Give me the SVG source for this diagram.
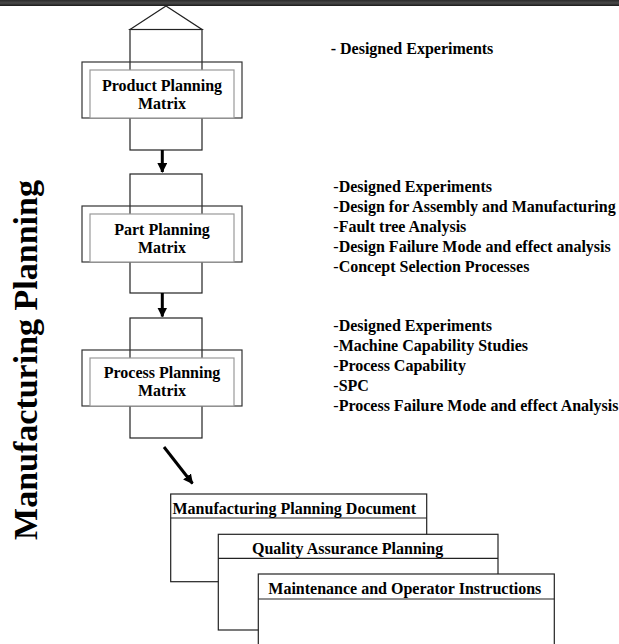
<svg xmlns="http://www.w3.org/2000/svg" width="619" height="644" viewBox="0 0 619 644">
  <style>
    .t { font-family: "Liberation Serif", "Times New Roman", serif; font-weight: bold; font-size: 16px; fill: #000; }
    .c { text-anchor: middle; }
    .n { font-weight: normal; }
    .frame { fill: none; stroke: #222; stroke-width: 1.2; }
    .outer { fill: none; stroke: #333; stroke-width: 1.2; }
    .inner { fill: #fff; stroke: #999; stroke-width: 1.2; }
    .doc { fill: #fff; stroke: #222; stroke-width: 1.2; }
    .rule { stroke: #222; stroke-width: 1.2; }
    .arrow { stroke: #000; stroke-width: 3; fill: none; }
  </style>
  <defs>
    <linearGradient id="bar" x1="0" y1="0" x2="0" y2="1">
      <stop offset="0" stop-color="#2a2a2a"/>
      <stop offset="0.5" stop-color="#4a4a4a"/>
      <stop offset="1" stop-color="#1a1a1a"/>
    </linearGradient>
    <marker id="head" viewBox="0 0 10 10" refX="9" refY="5" markerWidth="3.3" markerHeight="3.3" orient="auto" markerUnits="strokeWidth">
      <path d="M0,0 L10,5 L0,10 Z" fill="#000"/>
    </marker>
  </defs>

  <rect width="619" height="644" fill="#fff"/>
  <rect x="0" y="0" width="619" height="6" fill="url(#bar)"/>

  <!-- side title -->
  <g id="side-title">
    <text class="t" font-size="34" style="font-size:34px" text-anchor="middle" transform="translate(37,360) rotate(-90)">Manufacturing Planning</text>
  </g>

  <!-- matrix stages -->
  <g id="product-planning">
    <path class="frame" d="M130,29.5 L166,6 L202,29.5 Z"/>
    <rect class="frame" x="130" y="29.5" width="72" height="120.5"/>
    <rect class="outer" x="82" y="62" width="160" height="56"/>
    <rect class="inner" x="90" y="70" width="144" height="48"/>
    <text class="t c" x="162" y="91">Product Planning</text>
    <text class="t c" x="162" y="109">Matrix</text>
  </g>

  <g id="part-planning">
    <rect class="frame" x="130" y="174" width="72" height="119"/>
    <rect class="outer" x="82" y="206" width="160" height="56"/>
    <rect class="inner" x="90" y="214" width="144" height="48"/>
    <text class="t c" x="162" y="234.5">Part Planning</text>
    <text class="t c" x="162" y="252.5">Matrix</text>
  </g>

  <g id="process-planning">
    <rect class="frame" x="130" y="318" width="72" height="120"/>
    <rect class="outer" x="82" y="350" width="160" height="56"/>
    <rect class="inner" x="90" y="358" width="144" height="48"/>
    <text class="t c" x="162" y="378">Process Planning</text>
    <text class="t c" x="162" y="396">Matrix</text>
  </g>

  <!-- connectors -->
  <g id="connectors">
    <line class="arrow" x1="162.3" y1="150" x2="162.3" y2="172" marker-end="url(#head)"/>
    <line class="arrow" x1="162.3" y1="293" x2="162.3" y2="316.5" marker-end="url(#head)"/>
    <line class="arrow" x1="164" y1="447" x2="192.5" y2="483.5" stroke-width="2.6" marker-end="url(#head)"/>
  </g>

  <!-- output documents, stacked -->
  <g id="doc-manufacturing">
    <rect class="doc" x="170.7" y="494" width="256" height="87.7"/>
    <line class="rule" x1="170.7" y1="518" x2="426.7" y2="518"/>
    <text class="t" x="172.5" y="514">Manufacturing Planning Document</text>
  </g>

  <g id="doc-quality">
    <rect class="doc" x="218.3" y="534.3" width="279.7" height="95.7"/>
    <line class="rule" x1="218.3" y1="558.3" x2="498" y2="558.3"/>
    <text class="t" x="252" y="554">Quality Assurance Planning</text>
  </g>

  <g id="doc-maintenance">
    <rect class="doc" x="258.3" y="574" width="296" height="80"/>
    <line class="rule" x1="258.3" y1="599" x2="554.3" y2="599"/>
    <text class="t" x="268.3" y="594.3">Maintenance and Operator Instructions</text>
  </g>

  <!-- supporting methods -->
  <g id="methods-product">
    <text class="t" x="330.7" y="54">- Designed Experiments</text>
  </g>

  <g id="methods-part">
    <text class="t" x="333.3" y="192"><tspan class="n">-</tspan>Designed Experiments</text>
    <text class="t" x="333.3" y="212"><tspan class="n">-</tspan>Design for Assembly and Manufacturing</text>
    <text class="t" x="333.3" y="232"><tspan class="n">-</tspan>Fault tree Analysis</text>
    <text class="t" x="333.3" y="252"><tspan class="n">-</tspan>Design Failure Mode and effect analysis</text>
    <text class="t" x="333.3" y="272"><tspan class="n">-</tspan>Concept Selection Processes</text>
  </g>

  <g id="methods-process">
    <text class="t" x="333.3" y="331"><tspan class="n">-</tspan>Designed Experiments</text>
    <text class="t" x="333.3" y="351"><tspan class="n">-</tspan>Machine Capability Studies</text>
    <text class="t" x="333.3" y="371"><tspan class="n">-</tspan>Process Capability</text>
    <text class="t" x="333.3" y="391"><tspan class="n">-</tspan>SPC</text>
    <text class="t" x="333.3" y="411"><tspan class="n">-</tspan>Process Failure Mode and effect Analysis</text>
  </g>
</svg>
